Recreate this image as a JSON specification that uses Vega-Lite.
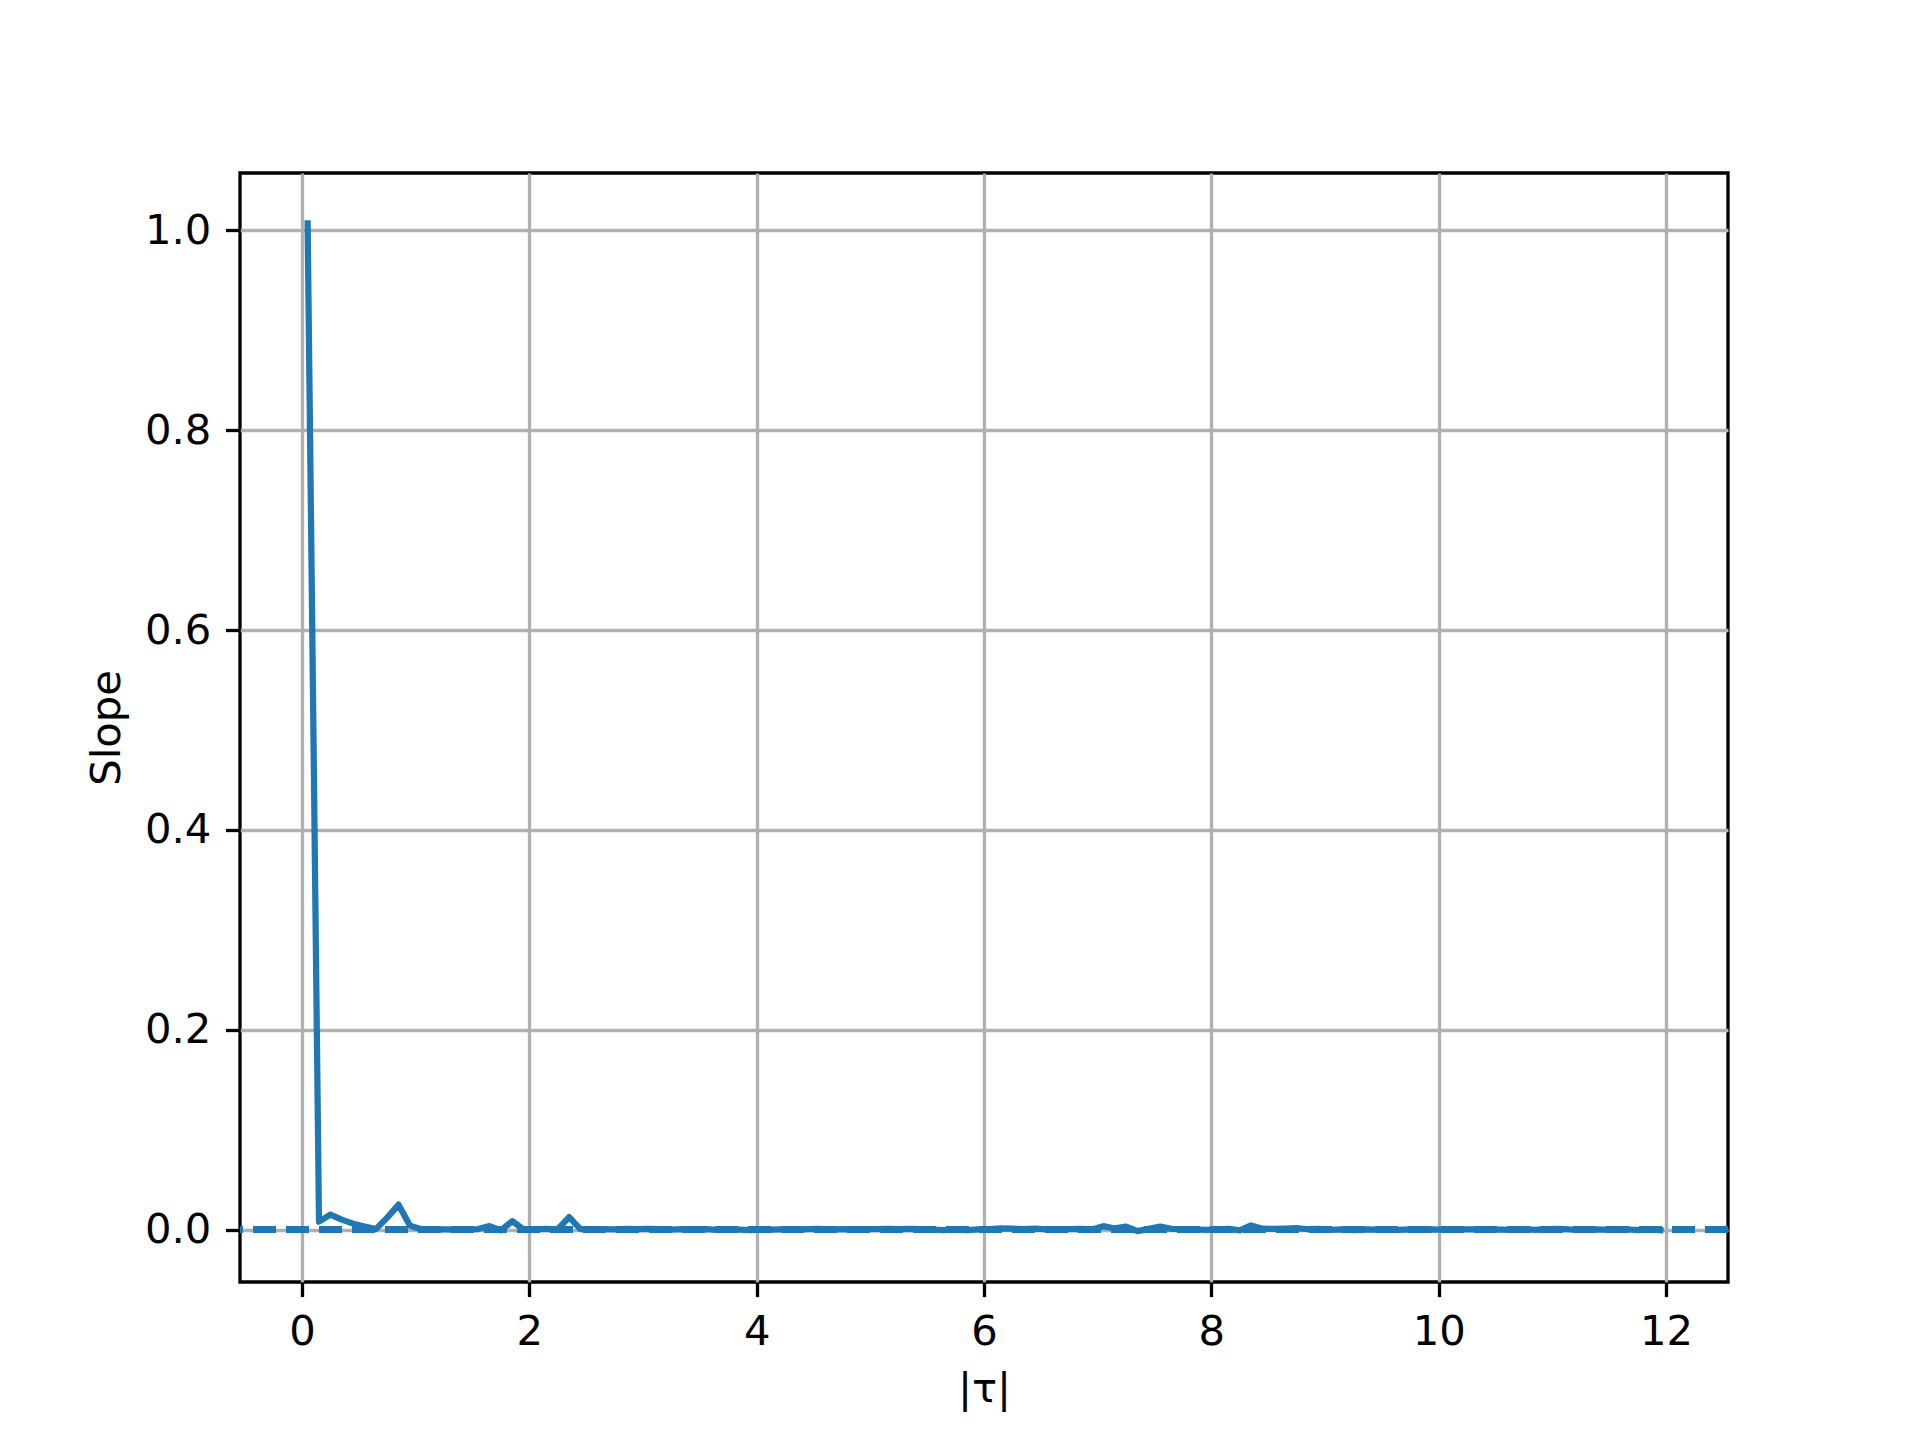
{
  "$schema": "https://vega.github.io/schema/vega-lite/v6.json",
  "width": 1488,
  "height": 1109,
  "autosize": {"type": "none"},
  "padding": {"left": 240, "top": 173, "right": 192, "bottom": 158},
  "background": "white",
  "config": {
    "font": "DejaVu Sans",
    "view": {"stroke": "black", "strokeWidth": 3.3},
    "axis": {
      "domain": false,
      "grid": true,
      "gridColor": "#b0b0b0",
      "gridWidth": 3.3,
      "gridOpacity": 1,
      "tickColor": "black",
      "tickWidth": 3.3,
      "tickSize": 14.6,
      "labelFont": "DejaVu Sans",
      "labelFontSize": 41.7,
      "labelColor": "black",
      "labelPadding": 14.6,
      "titleFont": "DejaVu Sans",
      "titleFontSize": 41.7,
      "titleFontWeight": "normal",
      "titleColor": "black"
    }
  },
  "data": {
    "values": [
      {"tau": 0.05, "slope": 1.007},
      {"tau": 0.15, "slope": 0.008},
      {"tau": 0.25, "slope": 0.015},
      {"tau": 0.35, "slope": 0.010},
      {"tau": 0.45, "slope": 0.006},
      {"tau": 0.55, "slope": 0.003},
      {"tau": 0.65, "slope": 0.0005},
      {"tau": 0.75, "slope": 0.012},
      {"tau": 0.85, "slope": 0.025},
      {"tau": 0.95, "slope": 0.004},
      {"tau": 1.05, "slope": 0.0003},
      {"tau": 1.15, "slope": 0.0001},
      {"tau": 1.25, "slope": 0.0002},
      {"tau": 1.35, "slope": 0.0001},
      {"tau": 1.45, "slope": 0.0003},
      {"tau": 1.55, "slope": 0.0006},
      {"tau": 1.65, "slope": 0.0035},
      {"tau": 1.75, "slope": -0.0008},
      {"tau": 1.85, "slope": 0.0085},
      {"tau": 1.95, "slope": 0.0002},
      {"tau": 2.05, "slope": 0.0003},
      {"tau": 2.15, "slope": 0.0008},
      {"tau": 2.25, "slope": 0.0002},
      {"tau": 2.35, "slope": 0.0125},
      {"tau": 2.45, "slope": 0.0006},
      {"tau": 2.55, "slope": 0.0004},
      {"tau": 2.65, "slope": 0.0006},
      {"tau": 2.75, "slope": 0.0002},
      {"tau": 2.85, "slope": 0.0007},
      {"tau": 2.95, "slope": 0.0005},
      {"tau": 3.05, "slope": 0.0008},
      {"tau": 3.15, "slope": 0.0004},
      {"tau": 3.25, "slope": 0.0001},
      {"tau": 3.35, "slope": 0.0005},
      {"tau": 3.45, "slope": -0.0003},
      {"tau": 3.55, "slope": 0.0004},
      {"tau": 3.65, "slope": -0.0002},
      {"tau": 3.75, "slope": 0.0006},
      {"tau": 3.85, "slope": 0.0001},
      {"tau": 3.95, "slope": -0.0006},
      {"tau": 4.05, "slope": 0.0002},
      {"tau": 4.15, "slope": -0.0001},
      {"tau": 4.25, "slope": 0.0004},
      {"tau": 4.35, "slope": 0.0},
      {"tau": 4.45, "slope": 0.0005},
      {"tau": 4.55, "slope": 0.0008},
      {"tau": 4.65, "slope": 0.0001},
      {"tau": 4.75, "slope": 0.0006},
      {"tau": 4.85, "slope": 0.0003},
      {"tau": 4.95, "slope": 0.0006},
      {"tau": 5.05, "slope": 0.0005},
      {"tau": 5.15, "slope": 0.0007},
      {"tau": 5.25, "slope": 0.0004},
      {"tau": 5.35, "slope": 0.0008},
      {"tau": 5.45, "slope": 0.0006},
      {"tau": 5.55, "slope": 0.0001},
      {"tau": 5.65, "slope": -0.0004},
      {"tau": 5.75, "slope": 0.0002},
      {"tau": 5.85, "slope": -0.0005},
      {"tau": 5.95, "slope": 0.0003},
      {"tau": 6.05, "slope": 0.0006},
      {"tau": 6.15, "slope": 0.0012},
      {"tau": 6.25, "slope": 0.0010},
      {"tau": 6.35, "slope": 0.0004},
      {"tau": 6.45, "slope": 0.0009},
      {"tau": 6.55, "slope": 0.0002},
      {"tau": 6.65, "slope": 0.0001},
      {"tau": 6.75, "slope": 0.0004},
      {"tau": 6.85, "slope": 0.0007},
      {"tau": 6.95, "slope": 0.0001},
      {"tau": 7.05, "slope": 0.0035},
      {"tau": 7.15, "slope": 0.0012},
      {"tau": 7.25, "slope": 0.0030},
      {"tau": 7.35, "slope": -0.0015},
      {"tau": 7.45, "slope": 0.0008},
      {"tau": 7.55, "slope": 0.0030},
      {"tau": 7.65, "slope": 0.0008},
      {"tau": 7.75, "slope": 0.0004},
      {"tau": 7.85, "slope": 0.0002},
      {"tau": 7.95, "slope": -0.0002},
      {"tau": 8.05, "slope": 0.0003},
      {"tau": 8.15, "slope": 0.0007},
      {"tau": 8.25, "slope": -0.0008},
      {"tau": 8.35, "slope": 0.0042},
      {"tau": 8.45, "slope": 0.0010},
      {"tau": 8.55, "slope": 0.0008},
      {"tau": 8.65, "slope": 0.0011},
      {"tau": 8.75, "slope": 0.0015},
      {"tau": 8.85, "slope": 0.0004},
      {"tau": 8.95, "slope": 0.0007},
      {"tau": 9.05, "slope": -0.0003},
      {"tau": 9.15, "slope": 0.0003},
      {"tau": 9.25, "slope": -0.0004},
      {"tau": 9.35, "slope": 0.0002},
      {"tau": 9.45, "slope": -0.0001},
      {"tau": 9.55, "slope": 0.0003},
      {"tau": 9.65, "slope": -0.0002},
      {"tau": 9.75, "slope": 0.0002},
      {"tau": 9.85, "slope": 0.0001},
      {"tau": 9.95, "slope": 0.0003},
      {"tau": 10.05, "slope": -0.0002},
      {"tau": 10.15, "slope": 0.0004},
      {"tau": 10.25, "slope": 0.0003},
      {"tau": 10.35, "slope": 0.0002},
      {"tau": 10.45, "slope": -0.0001},
      {"tau": 10.55, "slope": 0.0001},
      {"tau": 10.65, "slope": -0.0003},
      {"tau": 10.75, "slope": 0.0004},
      {"tau": 10.85, "slope": -0.0002},
      {"tau": 10.95, "slope": 0.0005},
      {"tau": 11.05, "slope": 0.0008},
      {"tau": 11.15, "slope": 0.0002},
      {"tau": 11.25, "slope": 0.0},
      {"tau": 11.35, "slope": 0.0003},
      {"tau": 11.45, "slope": 0.0001},
      {"tau": 11.55, "slope": -0.0003},
      {"tau": 11.65, "slope": 0.0004},
      {"tau": 11.75, "slope": -0.0004},
      {"tau": 11.85, "slope": 0.0002},
      {"tau": 11.95, "slope": -0.0006}
    ]
  },
  "encoding": {
    "x": {
      "field": "tau",
      "type": "quantitative",
      "scale": {"domain": [-0.545, 12.545], "nice": false, "zero": false},
      "axis": {"title": "|τ|", "values": [0, 2, 4, 6, 8, 10, 12], "format": "d", "titlePadding": 16}
    },
    "y": {
      "field": "slope",
      "type": "quantitative",
      "scale": {"domain": [-0.0524, 1.0575], "nice": false, "zero": false},
      "axis": {"title": "Slope", "values": [0, 0.2, 0.4, 0.6, 0.8, 1.0], "format": ".1f", "titlePadding": 16}
    }
  },
  "layer": [
    {
      "mark": {"type": "rule", "color": "#1f77b4", "strokeWidth": 6.25, "strokeDash": [23, 10]},
      "encoding": {"y": {"datum": 0}, "x": null}
    },
    {
      "mark": {"type": "line", "color": "#1f77b4", "strokeWidth": 6.25, "strokeCap": "square", "strokeJoin": "round", "clip": true}
    }
  ]
}
